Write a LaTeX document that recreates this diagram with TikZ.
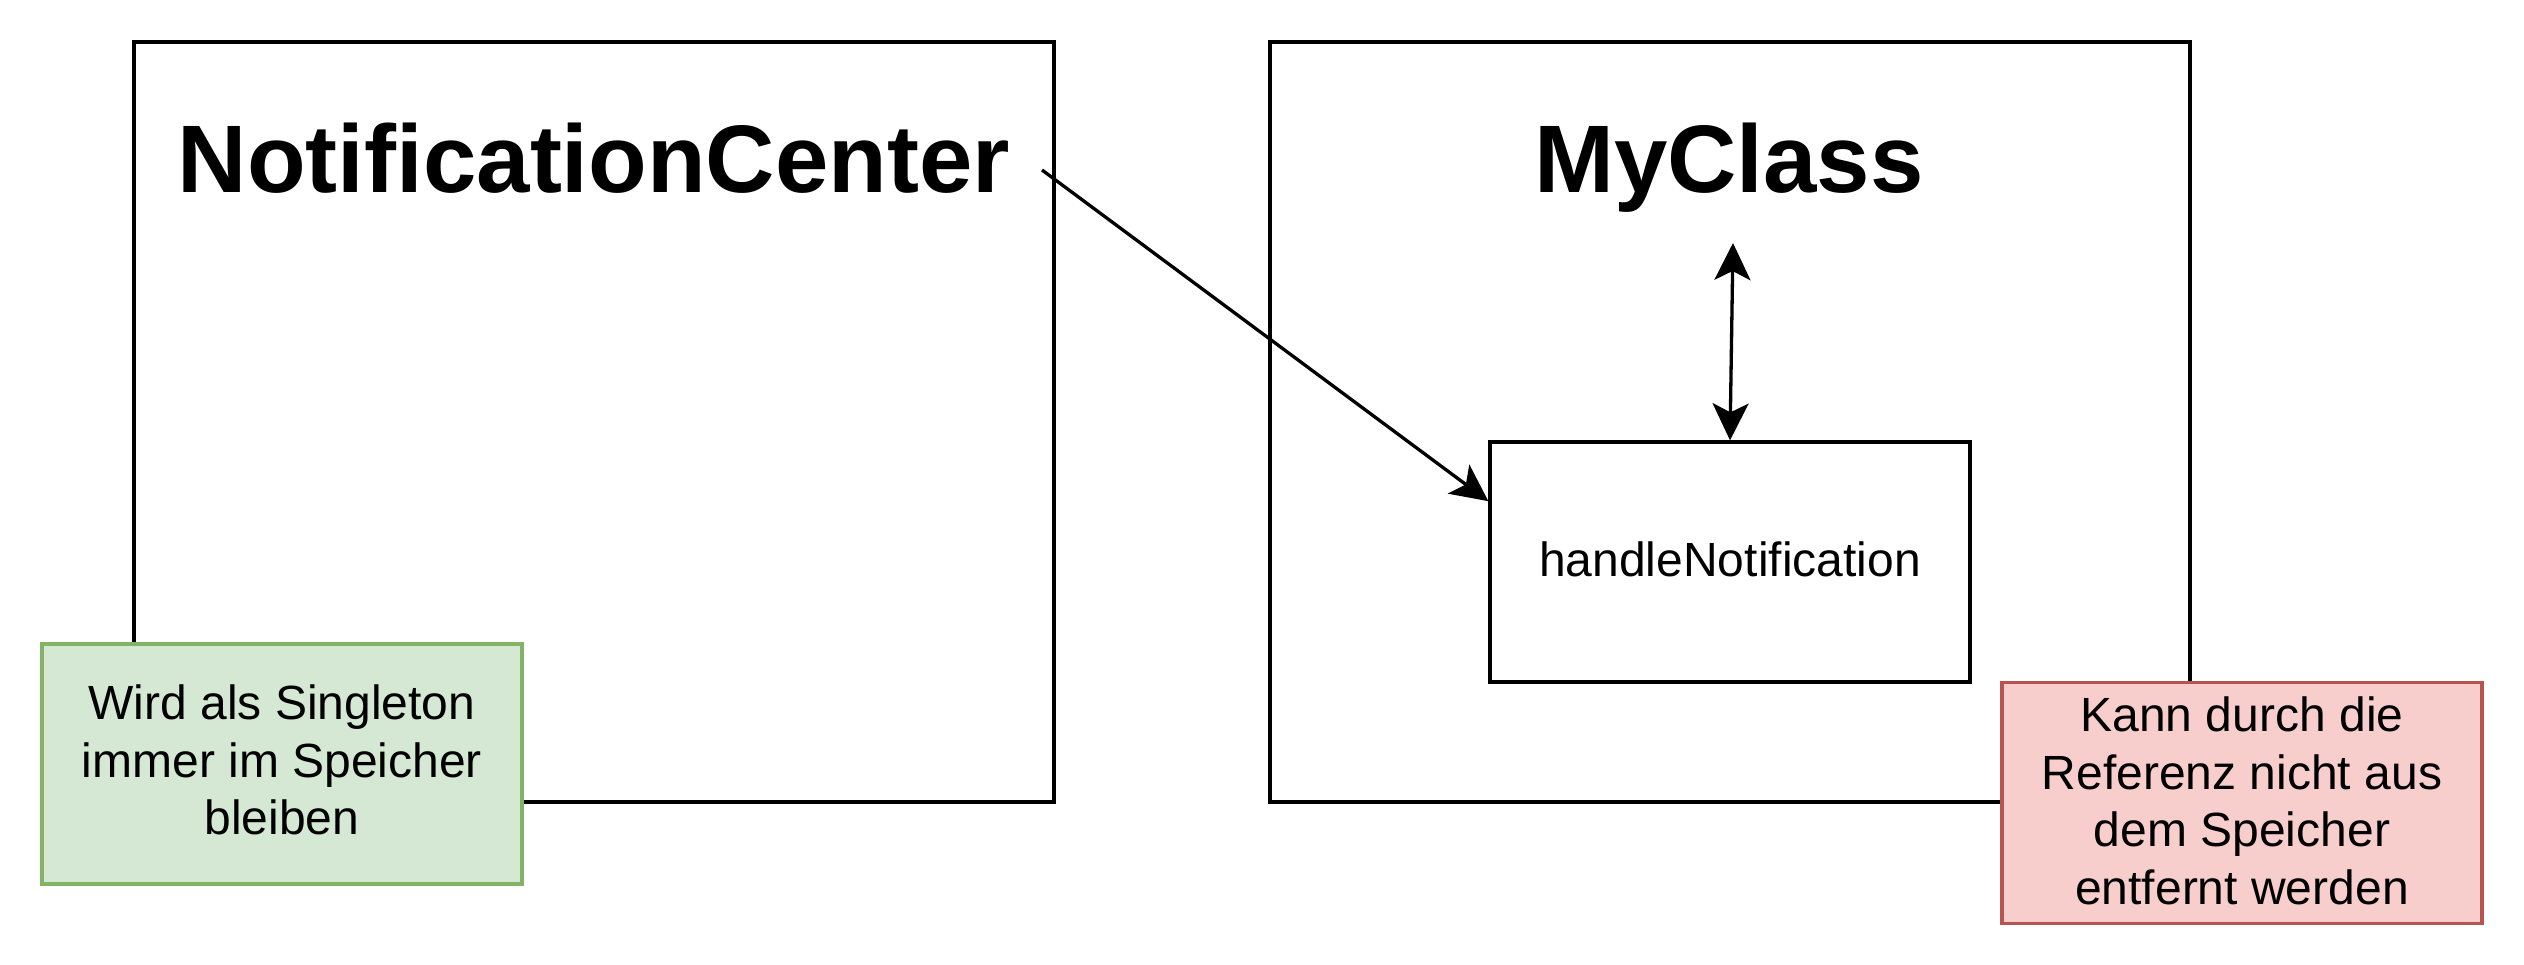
\documentclass[tikz,border=0pt]{standalone}
\usepackage{fontspec}
\setmainfont{Liberation Sans}
\usetikzlibrary{arrows.meta,calc}
\definecolor{notegreenfill}{HTML}{D5E8D4}
\definecolor{notegreendraw}{HTML}{82B366}
\definecolor{noteredfill}{HTML}{F8CECC}
\definecolor{noteredraw}{HTML}{B85450}
\begin{document}
\begin{tikzpicture}[x=1pt,y=-1pt,
  bigbox/.style={draw=black,line width=3.3pt,minimum width=920pt,minimum height=760pt,inner sep=0pt},
  methodbox/.style={draw=black,line width=3.3pt,minimum width=480pt,minimum height=240pt,inner sep=0pt},
  notebox/.style={line width=3.4pt,minimum width=480pt,minimum height=240pt,inner sep=0pt},
  bodytext/.style={inner sep=0pt,align=center,font=\fontsize{48}{57.6}\selectfont},
  titletext/.style={anchor=base,inner sep=0pt,font=\fontsize{96}{115}\selectfont\bfseries},
  conn/.style={line width=3.3pt,-{Stealth[length=37pt,width=36pt,inset=9pt]}},
  dconn/.style={line width=3.3pt,{Stealth[length=37pt,width=36pt,inset=9pt]}-{Stealth[length=37pt,width=36pt,inset=9pt]}}
]
\useasboundingbox[fill=white] (0,0) rectangle (2524,964);
\node[bigbox] (nc) at (594,422) {};
\node[bigbox] (mc) at (1730,422) {};
\node[titletext] (nctitle) at (594,192) {NotificationCenter};
\node[titletext] (mctitle) at (1729,192) {MyClass};
\node[methodbox] (hn) at (1730,562) {};
\node[bodytext] (hntext) at ($(hn.center)+(0,-3)$) {handleNotification};
\node[notebox,fill=notegreenfill,draw=notegreendraw] (gnote) at (282,764) {};
\node[bodytext] (gtext) at ($(gnote.center)+(0,-4)$) {Wird als Singleton\\immer im Speicher\\bleiben};
\node[notebox,fill=noteredfill,draw=noteredraw,minimum height=241pt] (rnote) at (2242,803) {};
\node[bodytext] (rtext) at ($(rnote.center)+(0,-2)$) {Kann durch die\\Referenz nicht aus\\dem Speicher\\entfernt werden};
\coordinate (a1s) at (1042,170);
\coordinate (a2e) at (1733,243);
\draw[conn] (a1s) -- ($(hn.north west)!0.25!(hn.south west)$);
\draw[dconn] (hn.north) -- (a2e);
\end{tikzpicture}
\end{document}
